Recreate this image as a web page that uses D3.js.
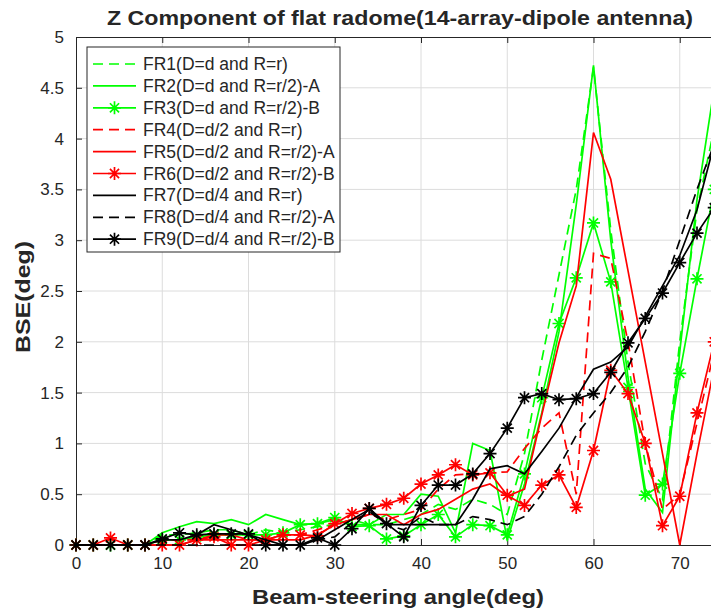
<!DOCTYPE html>
<html>
<head>
<meta charset="utf-8">
<script src="https://cdn.jsdelivr.net/npm/d3@7"></script>
<style>
  body { margin: 0; background: #fff; }
  text { font-family: "Liberation Sans", Arial, sans-serif; fill: #262626; }
</style>
</head>
<body>
<div id="chart"></div>
<script>
// Data
const angles = [0, 2, 4, 6, 8, 10, 12, 14, 16, 18, 20, 22, 24, 26, 28, 30, 32, 34, 36, 38,
  40, 42, 44, 46, 48, 50, 52, 54, 56, 58, 60, 62, 64, 66, 68, 70, 72, 74]

const fr1 = [0, 0, 0, 0, 0, 0.1, 0.1, 0.12, 0.15, 0.15, 0.1, 0.15, 0.12, 0.15, 0.18,
  0.2, 0.25, 0.2, 0.2, 0.25, 0.3, 0.4, 0.35, 0.45, 0.4,
  0.3, 0.9, 1.82, 2.66, 3.5, 4.7, 3.1, 1.8, 0.8, 0.45, 2.0, 3.3, 4.1]
const fr2 = [0, 0, 0, 0, 0, 0.12, 0.18, 0.23, 0.21, 0.25, 0.2, 0.3, 0.25, 0.2, 0.21,
  0.25, 0.2, 0.2, 0.3, 0.3, 0.5, 0.48, 0.12, 1.0, 0.93,
  0.05, 0.6, 1.3, 2.1, 3.35, 4.72, 3.0, 1.65, 0.55, 0.32, 1.9, 3.4, 4.5]
const fr3 = [0, 0, 0, 0, 0, 0.05, 0.05, 0.08, 0.1, 0.1, 0.1, 0.1, 0.12, 0.2, 0.21,
  0.27, 0.18, 0.19, 0.06, 0.09, 0.2, 0.3, 0.08, 0.2, 0.19,
  0.1, 0.7, 1.45, 2.18, 2.63, 3.17, 2.59, 1.55, 0.49, 0.6, 1.69, 2.62, 3.5]
const fr4 = [0, 0, 0, 0, 0, 0.05, 0.05, 0.05, 0.1, 0.1, 0.05, 0.05, 0.1, 0.1, 0.15,
  0.2, 0.25, 0.3, 0.25, 0.3, 0.35, 0.55, 0.69, 0.7, 0.71,
  0.72, 0.95, 1.15, 1.3, 0.5, 2.87, 2.82, 2.0, 1.0, 0.35, 0.5, 1.2, 1.9]
const fr5 = [0, 0, 0, 0, 0, 0, 0, 0.05, 0.05, 0.05, 0.05, 0.05, 0.05, 0.05, 0.1,
  0.2, 0.25, 0.3, 0.3, 0.2, 0.3, 0.35, 0.45, 0.55, 0.6,
  0.48, 0.55, 1.28, 1.99, 2.55, 4.06, 3.6, 2.7, 1.8, 0.9, 0, 0.9, 1.75]
const fr6 = [0, 0, 0.07, 0, 0, 0, 0, 0.05, 0.08, 0, 0, 0.05, 0.1, 0.1, 0.09,
  0.21, 0.31, 0.36, 0.4, 0.46, 0.6, 0.69, 0.79, 0.69, 0.71,
  0.49, 0.39, 0.59, 0.69, 0.37, 0.93, 1.72, 1.49, 1.0, 0.19, 0.48, 1.3, 2.0]
const fr7 = [0, 0, 0, 0, 0, 0.05, 0.05, 0.1, 0.2, 0.15, 0.1, 0.05, 0, 0, 0.05,
  0.15, 0.25, 0.35, 0.2, 0.2, 0.2, 0.2, 0.2, 0.45, 0.75,
  0.78, 0.7, 0.92, 1.15, 1.45, 1.73, 1.8, 1.95, 2.25, 2.55, 2.85, 3.3, 3.95]
const fr8 = [0, 0, 0, 0, 0, 0, 0, 0, 0, 0, 0, 0, 0, 0, 0.05,
  0.08, 0.22, 0.33, 0.2, 0.15, 0.28, 0.2, 0.2, 0.28, 0.25,
  0.2, 0.28, 0.5, 0.77, 1.08, 1.3, 1.5, 1.75, 2.1, 2.5, 3.0, 3.5, 3.95]
const fr9 = [0, 0, 0, 0, 0, 0.06, 0.12, 0.1, 0.11, 0.11, 0.11, 0, 0, 0, 0.07,
  0, 0.16, 0.36, 0.21, 0.08, 0.39, 0.59, 0.59, 0.7, 0.9,
  1.15, 1.45, 1.49, 1.43, 1.44, 1.49, 1.7, 1.99, 2.23, 2.48, 2.78, 3.07, 3.32]

const seriesNames = ["FR1(D=d and R=r)", "FR2(D=d and R=r/2)-A", "FR3(D=d and R=r/2)-B",
  "FR4(D=d/2 and R=r)", "FR5(D=d/2 and R=r/2)-A", "FR6(D=d/2 and R=r/2)-B",
  "FR7(D=d/4 and R=r)", "FR8(D=d/4 and R=r/2)-A", "FR9(D=d/4 and R=r/2)-B"]
const seriesColors = ["#00ff00", "#00ff00", "#00ff00", "#ff0000", "#ff0000", "#ff0000", "#000000", "#000000", "#000000"]
const seriesDashed = [true, false, false, true, false, false, false, true, false]
const seriesStars = [false, false, true, false, false, true, false, false, true]
const seriesValues = [fr1, fr2, fr3, fr4, fr5, fr6, fr7, fr8, fr9]

const xTicks = [0, 10, 20, 30, 40, 50, 60, 70]
const yTicks = [0, 0.5, 1, 1.5, 2, 2.5, 3, 3.5, 4, 4.5, 5]

// Dimensions
const dimensions = {
  width: 711,
  height: 613,
  left: 76,
  top: 37,
  bottom: 545,
  right: 766
}

const svg = d3.select('#chart')
  .append("svg")
  .attr("width", dimensions.width)
  .attr("height", dimensions.height)

// x axis runs on to 80, past the right edge of the picture
const xScale = d3.scaleLinear()
  .domain([0, 80])
  .range([dimensions.left, dimensions.right])

const yScale = d3.scaleLinear()
  .domain([0, 5])
  .range([dimensions.bottom, dimensions.top])

// grid
const grid = svg.append("g")
grid.selectAll(".vgrid")
  .data(xTicks.slice(1))
  .join("line")
  .attr("x1", d => xScale(d)).attr("x2", d => xScale(d))
  .attr("y1", dimensions.top).attr("y2", dimensions.bottom)
  .attr("stroke", "#dcdcdc")
grid.selectAll(".hgrid")
  .data(yTicks.slice(1, -1))
  .join("line")
  .attr("x1", dimensions.left).attr("x2", dimensions.right)
  .attr("y1", d => yScale(d)).attr("y2", d => yScale(d))
  .attr("stroke", "#dcdcdc")

// axes
const xAxis = d3.axisBottom(xScale).tickValues(xTicks).tickSize(-6).tickPadding(12).tickFormat(d3.format("d"))
const xAxisTop = d3.axisTop(xScale).tickValues(xTicks).tickSize(-6).tickFormat("")
const yAxis = d3.axisLeft(yScale).tickValues(yTicks).tickSize(-6).tickPadding(12).tickFormat(d => d)

function styleAxis(g) {
  g.select(".domain").attr("stroke", "#262626").attr("stroke-width", 1)
  g.selectAll(".tick line").attr("stroke", "#262626")
  g.selectAll(".tick text").attr("font-size", 17).attr("fill", "#262626")
    .style("font-family", "'Liberation Sans', Arial, sans-serif")
}

svg.append("g")
  .attr("transform", `translate(0, ${dimensions.bottom})`)
  .call(xAxis).call(styleAxis)
svg.append("g")
  .attr("transform", `translate(0, ${dimensions.top})`)
  .call(xAxisTop).call(styleAxis)
svg.append("g")
  .attr("transform", `translate(${dimensions.left}, 0)`)
  .call(yAxis).call(styleAxis)

// series
const line = d3.line()
  .x((d, i) => xScale(angles[i]))
  .y(d => yScale(d))

const starPath = (s) => {
  const k = s * 0.7
  return `M0,${-s}L0,${s}M${-s},0L${s},0M${-k},${-k}L${k},${k}M${-k},${k}L${k},${-k}`
}

const plot = svg.append("g")
seriesValues.forEach((vals, si) => {
  plot.append("path")
    .datum(vals)
    .attr("d", line)
    .attr("fill", "none")
    .attr("stroke", seriesColors[si])
    .attr("stroke-width", 1.7)
    .attr("stroke-dasharray", seriesDashed[si] ? "10,6" : null)
  if (seriesStars[si]) {
    plot.append("g").selectAll("path")
      .data(vals)
      .join("path")
      .attr("transform", (d, i) => `translate(${xScale(angles[i])}, ${yScale(d)})`)
      .attr("d", starPath(6.5))
      .attr("stroke", seriesColors[si])
      .attr("stroke-width", 1.7)
  }
})

// legend
const legend = svg.append("g").attr("transform", "translate(87, 47)")
legend.append("rect")
  .attr("width", 253).attr("height", 205)
  .attr("fill", "#fff").attr("stroke", "#262626")
const items = legend.selectAll(".item")
  .data(seriesNames)
  .join("g")
  .attr("transform", (d, i) => `translate(0, ${17 + i * 21.9})`)
items.append("line")
  .attr("x1", 6).attr("x2", 49).attr("y1", 0).attr("y2", 0)
  .attr("stroke", (d, i) => seriesColors[i])
  .attr("stroke-width", 1.7)
  .attr("stroke-dasharray", (d, i) => seriesDashed[i] ? "10,6" : null)
items.filter((d, i) => seriesStars[i])
  .append("path")
  .attr("transform", "translate(27.5, 0)")
  .attr("d", starPath(6.5))
  .attr("stroke", d => seriesColors[seriesNames.indexOf(d)])
  .attr("stroke-width", 1.7)
items.append("text")
  .attr("x", 56).attr("y", 6)
  .attr("font-size", 17.5)
  .text(d => d)

// titles
svg.append("text")
  .attr("x", 400).attr("y", 25)
  .attr("text-anchor", "middle")
  .attr("font-size", 20).attr("font-weight", "bold")
  .attr("textLength", 586).attr("lengthAdjust", "spacingAndGlyphs")
  .text("Z Component  of flat radome(14-array-dipole antenna)")

svg.append("text")
  .attr("x", 398).attr("y", 604)
  .attr("text-anchor", "middle")
  .attr("font-size", 21).attr("font-weight", "bold")
  .attr("textLength", 292).attr("lengthAdjust", "spacingAndGlyphs")
  .text("Beam-steering angle(deg)")

svg.append("text")
  .attr("transform", "translate(30, 297) rotate(-90)")
  .attr("text-anchor", "middle")
  .attr("font-size", 21).attr("font-weight", "bold")
  .attr("textLength", 112).attr("lengthAdjust", "spacingAndGlyphs")
  .text("BSE(deg)")
</script>
</body>
</html>
